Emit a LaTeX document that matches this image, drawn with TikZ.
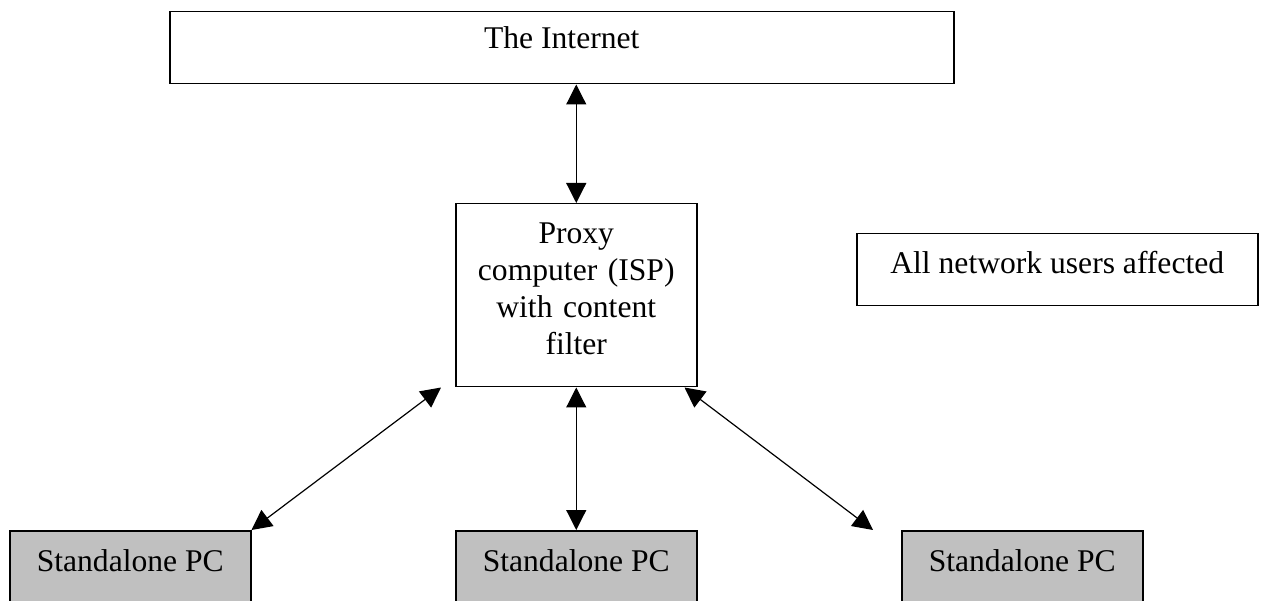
\documentclass[tikz,border=0pt]{standalone}
\usepackage{fontspec}
\setmainfont{Liberation Serif}
\usetikzlibrary{arrows.meta}
\definecolor{pcgrey}{HTML}{C0C0C0}
\begin{document}
\begin{tikzpicture}[x=1pt,y=-1pt,
  every node/.style={font=\fontsize{31.6}{37}\selectfont, inner xsep=4pt},
  box/.style={draw, line width=1.5pt, rectangle, anchor=north west},
  pcbox/.style={box, fill=pcgrey, minimum width=241pt, inner ysep=20pt, text height=21pt, text depth=60pt},
  link/.style={line width=1.2pt, {Triangle[length=20pt,width=20pt]}-{Triangle[length=20pt,width=20pt]}}
]
\useasboundingbox (0,0) rectangle (1261,601);
\clip (0,0) rectangle (1261,601);
\node[box, minimum width=784pt, inner ysep=16pt, text height=21pt, text depth=19pt] (inet) at (169,11) {The Internet};
\node[box, minimum width=241pt, text width=233pt, align=center, inner ysep=19pt, text height=21pt, text depth=124pt] (proxy) at (455,203) {Proxy\\computer (ISP)\\with content\\filter};
\node[box, minimum width=401pt, inner ysep=19pt, text height=21pt, text depth=13pt] (all) at (856,233) {All network users affected};
\node[pcbox] (pc1) at (9,530) {Standalone PC};
\node[pcbox] (pc2) at (455,530) {Standalone PC};
\node[pcbox] (pc3) at (901,530) {Standalone PC};
\draw[link] (proxy.north |- inet.south) -- (proxy.north);
\draw[link] ([xshift=-14pt]proxy.south west) -- (pc1.north east);
\draw[link] (proxy.south) -- (pc2.north);
\draw[link] ([xshift=-13pt]proxy.south east) -- ([xshift=-28pt]pc3.north west);
\end{tikzpicture}
\end{document}
